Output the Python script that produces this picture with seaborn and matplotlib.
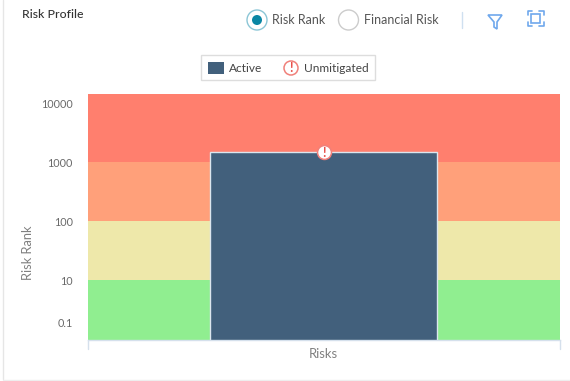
import matplotlib
matplotlib.use("Agg")
import matplotlib.pyplot as plt
from matplotlib.patches import Rectangle, Circle, Polygon
import seaborn as sns

# Data
band_edges = [1, 10, 100, 1000, 14500]
band_colors = ["#90EE90", "#EEE8AA", "#FFA07A", "#FF7F6E"]
tick_values = [10000, 1000, 100, 10, 1.94]
tick_labels = ["10000", "1000", "100", "10", "0.1"]
categories = ["Risks"]
risk_rank = [1480]
bar_color = "#42607C"

W, H = 570, 381
sns.set_theme(style="white")
plt.rcParams["font.family"] = ["Lato", "DejaVu Sans"]

fig = plt.figure(figsize=(W / 100, H / 100), dpi=100)
ax = fig.add_axes([88 / W, 1 - 339.5 / H, (559.5 - 88) / W, (339.5 - 93.5) / H])
ax.set_yscale("log")

for lo, hi, c in zip(band_edges[:-1], band_edges[1:], band_colors):
    ax.axhspan(lo, hi, color=c, lw=0, zorder=0)

sns.barplot(x=categories, y=risk_rank, color=bar_color, saturation=1, width=0.482,
            edgecolor="#DCE6EE", linewidth=1.0, ax=ax, zorder=2)
ax.set_xlim(-0.5, 0.5)
ax.set_ylim(band_edges[0], band_edges[-1])

ax.set_yticks(tick_values)
ax.set_yticklabels(tick_labels, fontsize=7.8, color="#6A6A6A")
ax.minorticks_off()
ax.tick_params(axis="y", length=0, pad=11)
ax.set_xticks([])
ax.set_xlabel("Risks", fontsize=9.4, color="#808080", labelpad=6)
ax.set_ylabel("Risk Rank", fontsize=9.3, color="#808080")
ax.yaxis.set_label_coords((29 - 88 + 5) / (559.5 - 88), (339.5 - 253) / (339.5 - 93.5))
for s in ["top", "right", "left"]:
    ax.spines[s].set_visible(False)
ax.spines["bottom"].set_color("#D5E0EC")
ax.spines["bottom"].set_linewidth(1)

# Unmitigated flag on the bar
ax.scatter(categories, risk_rank, s=100, c="white", edgecolors="#F0807A", linewidths=1.1,
           zorder=5, clip_on=False)
ax.text(0, risk_rank[0], "!", ha="center", va="center_baseline", color="#E8504A",
        fontsize=9, fontweight="bold", zorder=6)

# Page furniture in pixel coordinates
ui = fig.add_axes([0, 0, 1, 1], zorder=9, facecolor="none")
ui.set_xlim(0, W)
ui.set_ylim(H, 0)
ui.axis("off")
ui.patch.set_visible(False)

ui.plot([2.5, 2.5], [0, 379], color="#E6E6E6", lw=1)
ui.plot([2.5, 570], [379.5, 379.5], color="#EEEEEE", lw=1)
ui.plot([88, 88], [340, 349], color="#D5E0EC", lw=1)
ui.plot([559.5, 559.5], [340, 349], color="#D5E0EC", lw=1)

ui.text(22.5, 14.5, "Risk Profile", fontsize=8.8, color="#333333", va="center", fontweight="medium")

ui.add_patch(Circle((257, 20), 10, fc="white", ec="#8CC6D6", lw=1))
ui.add_patch(Circle((257, 20), 5, fc="#0A86A4", ec="none"))
ui.text(272, 20.5, "Risk Rank", fontsize=9, color="#555555", va="center")
ui.add_patch(Circle((348.5, 20), 10, fc="white", ec="#CCCCCC", lw=1))
ui.text(364, 20.5, "Financial Risk", fontsize=9, color="#555555", va="center")
ui.plot([461.5, 461.5], [12, 28], color="#CFE0F0", lw=1)

ui.add_patch(Polygon([(488, 15), (502, 15), (497, 22), (497, 29), (494, 27), (494, 22)],
                     closed=True, fc="none", ec="#6FA8EC", lw=1.2))
ui.add_patch(Rectangle((531, 13.5), 8.5, 9, fc="none", ec="#6FA8EC", lw=1.2))
for xs, ys in [([528, 528, 532], [15, 10.5, 10.5]), ([539, 544, 544], [10.5, 10.5, 15]),
               ([528, 528, 532], [22, 26, 26]), ([539, 544, 544], [26, 26, 22])]:
    ui.plot(xs, ys, color="#6FA8EC", lw=1.2)

ui.add_patch(Rectangle((200.5, 55), 174.5, 25, fc="white", ec="#DDDDDD", lw=1))
ui.add_patch(Rectangle((208, 62), 16, 11.5, fc=bar_color, ec="none"))
ui.text(229, 68.5, "Active", fontsize=8.6, color="#444444", va="center")
ui.add_patch(Circle((291, 68), 7, fc="white", ec="#F0807A", lw=1.1))
ui.text(291, 68, "!", fontsize=9, color="#E8504A", ha="center", va="center", fontweight="bold")
ui.text(304, 68.5, "Unmitigated", fontsize=8.6, color="#444444", va="center")

fig.savefig("out.png", dpi=100)
